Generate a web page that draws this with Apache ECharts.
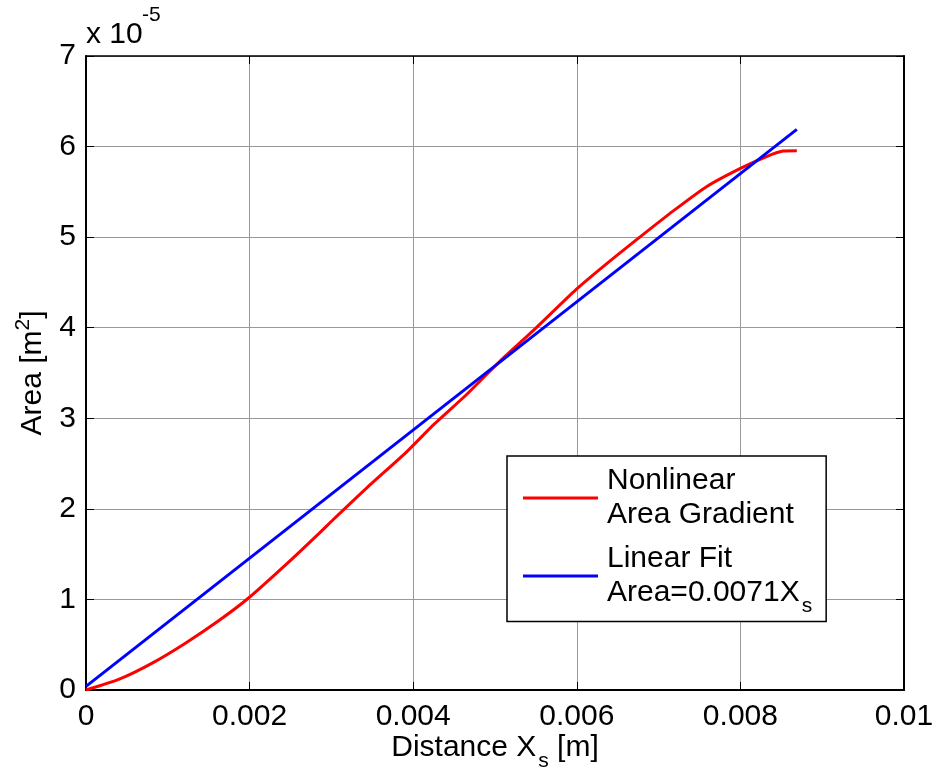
<!DOCTYPE html>
<html><head><meta charset="utf-8">
<script src="https://cdn.jsdelivr.net/npm/echarts@6/dist/echarts.min.js"></script>
<style>html,body{margin:0;padding:0;background:#fff}#c{width:936px;height:781px}</style>
</head><body><div id="c"></div>
<script>
// Axis ticks
const xTicks = [0, 0.002, 0.004, 0.006, 0.008, 0.01];
const yTicks = [0, 1, 2, 3, 4, 5, 6, 7]; // in units of 1e-5 m^2

// Nonlinear area gradient (x in m, area in 1e-5 m^2)
const nonlinearX = [0, 0.000407, 0.000815, 0.00122, 0.00163, 0.00198, 0.00245, 0.00285, 0.00302,
  0.00343, 0.00392, 0.00425, 0.00465, 0.00506, 0.00547, 0.00599, 0.00637, 0.00677, 0.00718,
  0.00759, 0.00800, 0.00832, 0.00852, 0.00869];
const nonlinearArea = [0.0, 0.12, 0.30, 0.52, 0.77, 1.01, 1.39, 1.73, 1.88,
  2.23, 2.63, 2.93, 3.26, 3.63, 3.97, 4.42, 4.71, 5.00, 5.29,
  5.56, 5.76, 5.89, 5.95, 5.955];

// Linear fit Area = 0.0071 Xs
const linearX = [0, 0.00869];
const linearArea = [0.04, 6.19];

const FONT = "'Liberation Sans', Arial, sans-serif";
const FS = 30;
const chart = echarts.init(document.getElementById('c'), null, {renderer: 'canvas'});

const pairs = (xs, ys) => xs.map((x, i) => [x, ys[i]]);

const baseX = {
  type: 'value', min: xTicks[0], max: xTicks[xTicks.length - 1], interval: xTicks[1] - xTicks[0]
};
const baseY = {
  type: 'value', min: yTicks[0], max: yTicks[yTicks.length - 1], interval: yTicks[1] - yTicks[0]
};

const option = {
  backgroundColor: '#fff',
  animation: false,
  grid: {left: 86, top: 56, right: 32, bottom: 91, containLabel: false, outerBoundsMode: 'none'},
  xAxis: [
    Object.assign({}, baseX, {
      position: 'bottom',
      axisLine: {show: true, onZero: false, lineStyle: {color: '#000', width: 2}},
      axisTick: {show: true, inside: true, length: 8, lineStyle: {color: '#000', width: 1}},
      splitLine: {show: true, lineStyle: {color: '#999', width: 1}},
      axisLabel: {
        color: '#000', fontSize: FS, fontFamily: FONT, margin: 12,
        formatter: v => String(+v.toFixed(3))
      },
      name: '{a|Distance X}{sub|s}{a| [m]}',
      nameLocation: 'middle', nameGap: 41, nameMoveOverlap: false,
      nameTextStyle: {
        color: '#000', fontFamily: FONT, fontSize: FS,
        rich: {
          a: {fontSize: FS, fontFamily: FONT, color: '#000', lineHeight: 34},
          sub: {fontSize: 21, fontFamily: FONT, color: '#000', lineHeight: 34, padding: [26, 0, 0, 2]}
        }
      }
    }),
    Object.assign({}, baseX, {
      position: 'top',
      axisLine: {show: true, onZero: false, lineStyle: {color: '#000', width: 1.5}},
      axisTick: {show: true, inside: true, length: 8, lineStyle: {color: '#000', width: 1}},
      splitLine: {show: false},
      axisLabel: {show: false}
    })
  ],
  yAxis: [
    Object.assign({}, baseY, {
      position: 'left',
      axisLine: {show: true, onZero: false, lineStyle: {color: '#000', width: 2}},
      axisTick: {show: true, inside: true, length: 8, lineStyle: {color: '#000', width: 1}},
      splitLine: {show: true, lineStyle: {color: '#999', width: 1}},
      axisLabel: {color: '#000', fontSize: FS, fontFamily: FONT, margin: 10},
      name: '{a|Area [m}{sup|2}{a|]}',
      nameLocation: 'middle', nameGap: 36, nameRotate: 90, nameMoveOverlap: false,
      nameTextStyle: {
        color: '#000', fontFamily: FONT, fontSize: FS,
        rich: {
          a: {fontSize: FS, fontFamily: FONT, color: '#000', lineHeight: 34},
          sup: {fontSize: 21, fontFamily: FONT, color: '#000', lineHeight: 34, padding: [0, 0, 20, 0]}
        }
      }
    }),
    Object.assign({}, baseY, {
      position: 'right',
      axisLine: {show: true, onZero: false, lineStyle: {color: '#000', width: 2}},
      axisTick: {show: true, inside: true, length: 8, lineStyle: {color: '#000', width: 1}},
      splitLine: {show: false},
      axisLabel: {show: false}
    })
  ],
  legend: {
    orient: 'vertical',
    left: 507, top: 456,
    padding: [8, 14, 5, 16],
    itemGap: 10,
    itemWidth: 75, itemHeight: 3,
    icon: 'rect',
    backgroundColor: '#fff',
    borderColor: '#000', borderWidth: 1.5, borderRadius: 0,
    selectedMode: false,
    data: ['Nonlinear Area Gradient', 'Linear Fit'],
    formatter: function (name) {
      if (name === 'Nonlinear Area Gradient') return '{a|Nonlinear}\n{a|Area Gradient}';
      return '{a|Linear Fit}\n{a|Area=0.0071X}{sub|s}';
    },
    textStyle: {
      color: '#000', fontFamily: FONT, fontSize: FS, lineHeight: 34, padding: [0, 0, 0, 4],
      rich: {
        a: {fontSize: FS, fontFamily: FONT, color: '#000', lineHeight: 34},
        sub: {fontSize: 21, fontFamily: FONT, color: '#000', lineHeight: 34, padding: [26, 0, 0, 2]}
      }
    }
  },
  graphic: [
    {type: 'text', left: 86, top: 20, style: {text: 'x 10', fontSize: FS, fontFamily: FONT, fill: '#000'}},
    {type: 'text', left: 142, top: 5, style: {text: '-5', fontSize: 21, fontFamily: FONT, fill: '#000'}}
  ],
  series: [
    {
      name: 'Nonlinear Area Gradient', type: 'line', xAxisIndex: 0, yAxisIndex: 0,
      data: pairs(nonlinearX, nonlinearArea), showSymbol: false, symbol: 'none', smooth: 0.2,
      lineStyle: {color: '#ff0000', width: 3}, itemStyle: {color: '#ff0000'}, z: 3
    },
    {
      name: 'Linear Fit', type: 'line', xAxisIndex: 0, yAxisIndex: 0,
      data: pairs(linearX, linearArea), showSymbol: false, symbol: 'none',
      lineStyle: {color: '#0000ff', width: 3}, itemStyle: {color: '#0000ff'}, z: 4
    }
  ]
};
chart.setOption(option);
</script>
</body></html>
